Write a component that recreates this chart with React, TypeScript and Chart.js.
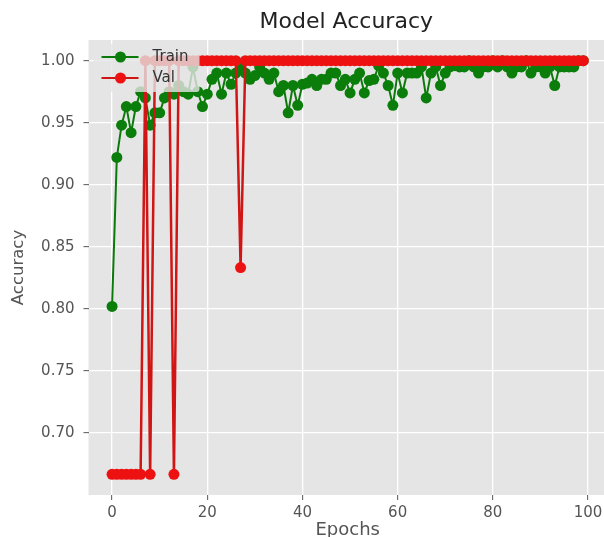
import React, { useEffect, useRef } from "react";
import { Chart, registerables } from "chart.js";

Chart.register(...registerables);

const FONT = "'DejaVu Sans', 'Liberation Sans', sans-serif";

const titleText = "Model Accuracy";
const xAxisTitle = "Epochs";
const yAxisTitle = "Accuracy";
const seriesNames = ["Train", "Val"];

const xTicks = [0, 20, 40, 60, 80, 100];
const yTicks = [0.7, 0.75, 0.8, 0.85, 0.9, 0.95, 1.0];

const trainAcc = [
  0.802, 0.922, 0.948, 0.963, 0.942, 0.963, 0.975, 0.970, 0.948, 0.958,
  0.958, 0.970, 0.975, 0.973, 0.980, 0.975, 0.973, 0.995, 0.975, 0.963,
  0.973, 0.985, 0.990, 0.973, 0.990, 0.981, 0.990, 0.994, 0.990, 0.985,
  0.988, 0.995, 0.990, 0.985, 0.990, 0.975, 0.980, 0.958, 0.980, 0.964,
  0.981, 0.982, 0.985, 0.980, 0.985, 0.985, 0.990, 0.990, 0.980, 0.985,
  0.974, 0.985, 0.990, 0.974, 0.984, 0.985, 0.996, 0.990, 0.980, 0.964,
  0.990, 0.974, 0.990, 0.990, 0.990, 0.995, 0.970, 0.990, 0.995, 0.980,
  0.990, 0.995, 0.996, 0.995, 0.995, 1.000, 0.995, 0.990, 0.995, 0.995,
  1.000, 0.995, 1.000, 0.995, 0.990, 0.995, 0.995, 1.000, 0.990, 0.995,
  0.995, 0.990, 0.995, 0.980, 0.995, 0.995, 0.995, 0.995, 1.000, 1.000,
];

const valAcc = [
  0.6667, 0.6667, 0.6667, 0.6667, 0.6667, 0.6667, 0.6667, 1.0, 0.6667, 1.0,
  1.0, 1.0, 1.0, 0.6667, 1.0, 1.0, 1.0, 1.0, 1.0, 1.0,
  1.0, 1.0, 1.0, 1.0, 1.0, 1.0, 1.0, 0.8333, 1.0, 1.0,
  1.0, 1.0, 1.0, 1.0, 1.0, 1.0, 1.0, 1.0, 1.0, 1.0,
  1.0, 1.0, 1.0, 1.0, 1.0, 1.0, 1.0, 1.0, 1.0, 1.0,
  1.0, 1.0, 1.0, 1.0, 1.0, 1.0, 1.0, 1.0, 1.0, 1.0,
  1.0, 1.0, 1.0, 1.0, 1.0, 1.0, 1.0, 1.0, 1.0, 1.0,
  1.0, 1.0, 1.0, 1.0, 1.0, 1.0, 1.0, 1.0, 1.0, 1.0,
  1.0, 1.0, 1.0, 1.0, 1.0, 1.0, 1.0, 1.0, 1.0, 1.0,
  1.0, 1.0, 1.0, 1.0, 1.0, 1.0, 1.0, 1.0, 1.0, 1.0,
];

const GREEN_LINE = "#0b7a0b";
const GREEN_PT = "#0a7d0a";
const RED_LINE = "#d01515";
const RED_PT = "#ee1111";
const BG = "#E5E5E5";
const TICK = "#555555";

const bgPlugin = {
  id: "bgPlugin",
  beforeDraw(chart: any) {
    const { ctx, chartArea } = chart;
    const { left, top, right, bottom } = chartArea;
    ctx.save();
    ctx.fillStyle = BG;
    ctx.fillRect(left, top, right - left, bottom - top);
    ctx.restore();
  },
};

const axisTitlePlugin = {
  id: "axisTitlePlugin",
  afterDraw(chart: any) {
    const { ctx, chartArea } = chart;
    ctx.save();
    ctx.fillStyle = TICK;
    ctx.textAlign = "center";
    ctx.textBaseline = "middle";
    ctx.font = `18px ${FONT}`;
    const xScale = chart.scales.x;
    const xc = (xScale.getPixelForValue(-4.95) + xScale.getPixelForValue(103.95)) / 2;
    ctx.fillText(xAxisTitle, xc, chartArea.bottom + 35);
    ctx.translate(18.5, (chartArea.top + chartArea.bottom) / 2);
    ctx.rotate(-Math.PI / 2);
    ctx.font = `16.5px ${FONT}`;
    ctx.fillText(yAxisTitle, 0, 0);
    ctx.restore();
  },
};

const legendPlugin = {
  id: "legendPlugin",
  afterDatasetsDraw(chart: any) {
    const { ctx, chartArea } = chart;
    const x0 = chartArea.left;
    const y0 = chartArea.top;
    ctx.save();
    ctx.fillStyle = "rgba(229,229,229,0.8)";
    ctx.beginPath();
    const bx = x0 + 5, by = y0 + 4, bw = 106, bh = 48, r = 3;
    ctx.moveTo(bx + r, by);
    ctx.lineTo(bx + bw - r, by);
    ctx.quadraticCurveTo(bx + bw, by, bx + bw, by + r);
    ctx.lineTo(bx + bw, by + bh - r);
    ctx.quadraticCurveTo(bx + bw, by + bh, bx + bw - r, by + bh);
    ctx.lineTo(bx + r, by + bh);
    ctx.quadraticCurveTo(bx, by + bh, bx, by + bh - r);
    ctx.lineTo(bx, by + r);
    ctx.quadraticCurveTo(bx, by, bx + r, by);
    ctx.closePath();
    ctx.fill();
    const items = [
      { label: seriesNames[0], line: GREEN_LINE, pt: GREEN_PT, y: y0 + 17 },
      { label: seriesNames[1], line: RED_LINE, pt: RED_PT, y: y0 + 38 },
    ];
    items.forEach((it) => {
      ctx.strokeStyle = it.line;
      ctx.lineWidth = 2;
      ctx.beginPath();
      ctx.moveTo(x0 + 13, it.y);
      ctx.lineTo(x0 + 50, it.y);
      ctx.stroke();
      ctx.fillStyle = it.pt;
      ctx.beginPath();
      ctx.arc(x0 + 32, it.y, 5.5, 0, Math.PI * 2);
      ctx.fill();
      ctx.fillStyle = "#333333";
      ctx.font = `15px ${FONT}`;
      ctx.textAlign = "left";
      ctx.textBaseline = "middle";
      ctx.fillText(it.label, x0 + 64, it.y);
    });
    ctx.restore();
  },
};

export default function App() {
  const canvasRef = useRef<HTMLCanvasElement | null>(null);

  useEffect(() => {
    document.body.style.margin = "0";
    const canvas = canvasRef.current;
    if (!canvas) return;
    const chart = new Chart(canvas, {
      type: "line",
      data: {
        datasets: [
          {
            label: seriesNames[1],
            data: valAcc.map((v, i) => ({ x: i, y: v })),
            borderColor: RED_LINE,
            backgroundColor: RED_PT,
            pointBackgroundColor: RED_PT,
            pointBorderWidth: 0,
            pointRadius: 5.5,
            borderWidth: 2.5,
            tension: 0,
            order: 0,
          },
          {
            label: seriesNames[0],
            data: trainAcc.map((v, i) => ({ x: i, y: v })),
            borderColor: GREEN_LINE,
            backgroundColor: GREEN_PT,
            pointBackgroundColor: GREEN_PT,
            pointBorderWidth: 0,
            pointRadius: 5.5,
            borderWidth: 2,
            tension: 0,
            order: 1,
          },
        ],
      },
      options: {
        animation: false,
        responsive: false,
        devicePixelRatio: 1,
        layout: { padding: 0, autoPadding: false },
        plugins: {
          legend: { display: false },
          tooltip: { enabled: false },
          title: {
            display: true,
            text: titleText,
            color: "#222222",
            fullSize: false,
            font: { family: FONT, size: 22, weight: "normal" },
            padding: { top: 9.5, bottom: 4.1 },
          },
        },
        scales: {
          x: {
            type: "linear",
            min: -4.95,
            max: 103.35,
            afterBuildTicks: (scale: any) => {
              scale.ticks = xTicks.map((v) => ({ value: v }));
            },
            afterFit: (scale: any) => {
              scale.height = 42;
              scale.paddingLeft = 0;
              scale.paddingRight = 0;
            },
            grid: {
              color: "#ffffff",
              lineWidth: 1.3,
              tickColor: TICK,
              tickLength: 5,
              tickWidth: 1,
            },
            border: { display: false },
            ticks: {
              color: TICK,
              font: { family: FONT, size: 15 },
              padding: 4,
              maxRotation: 0,
              callback: (v: any) => String(v),
            },
          },
          y: {
            type: "linear",
            min: 0.65,
            max: 1.01667,
            afterBuildTicks: (scale: any) => {
              scale.ticks = yTicks.map((v) => ({ value: v }));
            },
            afterFit: (scale: any) => {
              scale.width = 88.5;
              scale.paddingTop = 0;
              scale.paddingBottom = 0;
            },
            grid: {
              color: "#ffffff",
              lineWidth: 1.3,
              tickColor: TICK,
              tickLength: 5,
              tickWidth: 1,
            },
            border: { display: false },
            ticks: {
              color: TICK,
              font: { family: FONT, size: 15 },
              padding: 9,
              callback: (v: any) => Number(v).toFixed(2),
            },
          },
        },
      },
      plugins: [bgPlugin, axisTitlePlugin, legendPlugin],
    } as any);
    return () => chart.destroy();
  }, []);

  return (
    <div style={{ width: 604, height: 537, background: "#ffffff" }}>
      <canvas ref={canvasRef} width={604} height={537} style={{ display: "block" }} />
    </div>
  );
}
